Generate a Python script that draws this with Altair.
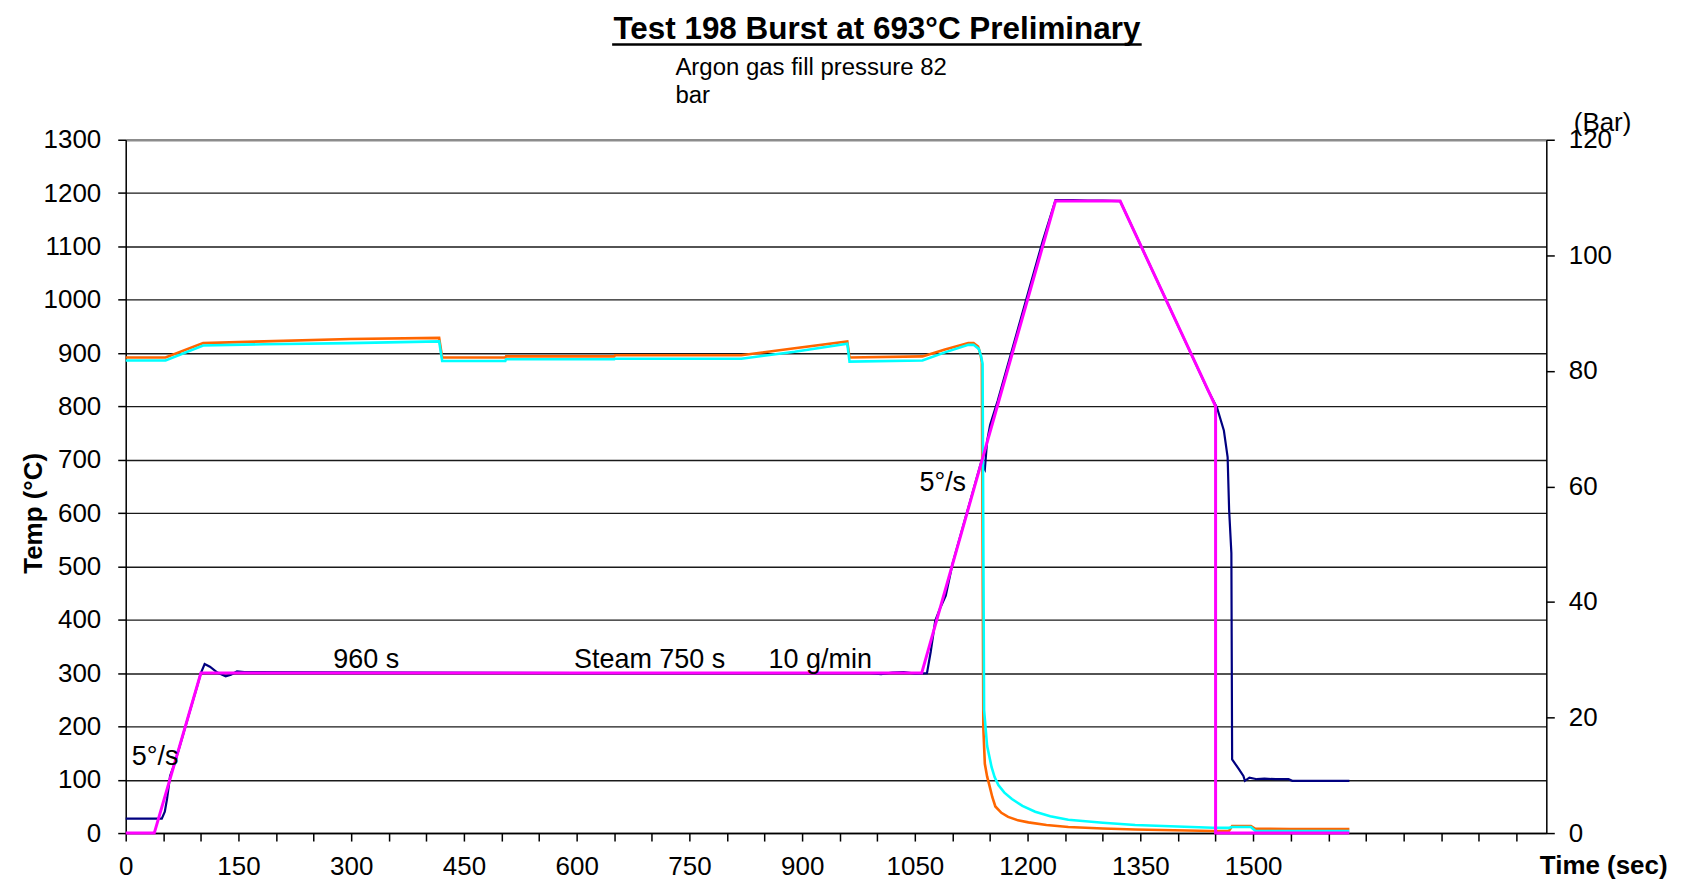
import altair as alt
import pandas as pd

FONT = "Liberation Sans"

# ---------------- data ----------------
# Set-point temperature (magenta), degC
set_t = [0, 38, 100, 1059, 1237, 1323, 1450, 1450, 1628]
set_T = [0, 0, 300, 300, 1185, 1185, 800, 0, 0]

# Measured temperature (navy), degC
meas_t = [0, 48, 52, 55, 59, 65, 75, 85, 95, 100, 105, 112, 122, 133, 140, 148, 158, 600, 990, 1005,
          1020, 1035, 1050, 1066, 1071, 1077, 1083, 1091, 1100, 1110, 1120, 1130, 1138, 1143, 1146, 1150,
          1160, 1180, 1200, 1220, 1237, 1260, 1280, 1300, 1323, 1350, 1380, 1410, 1440, 1452, 1461, 1466,
          1468, 1471, 1472, 1481, 1487, 1489, 1495, 1505, 1515, 1530, 1547, 1552, 1590, 1628]
meas_T = [27, 27, 40, 64, 107, 130, 178, 227, 275, 300, 317, 312, 301, 294, 297, 303, 302, 300, 300, 298,
          301, 302, 299, 300, 340, 398, 420, 445, 505, 555, 605, 655, 695, 682, 735, 765,
          810, 910, 1010, 1110, 1187, 1187, 1186, 1186, 1185, 1103, 1012, 921, 830, 797, 755, 705,
          606, 525, 138, 120, 107, 98, 104, 101, 102, 101, 101, 98, 98, 98]

# Pressure trace 1 (orange), bar
p1_t = [0, 53, 103, 184, 298, 417, 421, 505, 506, 650, 651, 819, 890, 960, 963, 1060, 1090, 1121, 1128,
        1134, 1137, 1139, 1140, 1141, 1143, 1146, 1149, 1153, 1157, 1165, 1174, 1187, 1201, 1225, 1254,
        1300, 1343, 1446, 1468, 1472, 1497, 1503, 1550, 1628]
p1_P = [82.3, 82.3, 84.8, 85.1, 85.5, 85.7, 82.3, 82.3, 82.5, 82.5, 82.7, 82.7, 83.9, 85.1, 82.3, 82.5,
        83.7, 84.8, 84.8, 84.2, 83.0, 81.5, 50.0, 18.2, 12.0, 9.8, 8.3, 6.2, 4.6, 3.5, 2.8, 2.2, 1.85,
        1.4, 1.05, 0.8, 0.62, 0.35, 0.4, 1.2, 1.2, 0.74, 0.7, 0.7]

# Pressure trace 2 (cyan), bar
p2_t = [0, 53, 103, 184, 298, 417, 421, 505, 506, 650, 651, 819, 890, 960, 963, 1060, 1090, 1121, 1128,
        1135, 1138, 1140, 1141, 1142, 1146, 1152, 1156, 1161, 1169, 1179, 1193, 1210, 1230, 1254, 1300,
        1343, 1446, 1468, 1472, 1497, 1503, 1550, 1628]
p2_P = [81.8, 81.8, 84.4, 84.6, 84.8, 85.1, 81.7, 81.7, 82.0, 82.0, 82.1, 82.1, 83.3, 84.7, 81.6, 81.8,
        83.2, 84.5, 84.5, 83.8, 82.5, 81.2, 50.0, 21.3, 15.1, 11.4, 9.7, 8.3, 7.0, 5.9, 4.7, 3.7, 2.9,
        2.3, 1.8, 1.4, 0.92, 0.9, 1.05, 1.05, 0.35, 0.35, 0.35]

# Annotations (placed in data coordinates)
ann_text = ["960 s", "Steam 750 s", "10 g/min", "5°/s", "5°/s"]
ann_t = [320, 697, 924, 39, 1087]
ann_T = [310, 310, 310, 128, 641]

title_text = "Test 198 Burst at 693°C Preliminary"
subtitle_text = "Argon gas fill pressure 82\nbar"

x_ticks = list(range(0, 1851, 50))
left_ticks = list(range(0, 1301, 100))
right_ticks = list(range(0, 121, 20))

# ---------------- chart ----------------
W, H = 1424, 695
X_MAX = 1890


def frame(t, v):
    return pd.DataFrame({"t": t, "v": v, "i": list(range(len(t)))})


x_scale = alt.Scale(domain=[0, X_MAX], nice=False, zero=False)
temp_scale = alt.Scale(domain=[0, 1300], nice=False, zero=False)
pres_scale = alt.Scale(domain=[0, 120], nice=False, zero=False)

x_axis = alt.Axis(
    values=x_ticks, format="d",
    labelExpr="(datum.value % 150 === 0 && datum.value <= 1500) ? datum.label : ''",
    labelFlush=False, labelOverlap=False, labelFont=FONT, labelFontSize=26, labelColor="black",
    labelPadding=13, tickSize=8, tickColor="black", tickWidth=1.5,
    domainColor="black", domainWidth=1.5, grid=False,
    title="Time (sec)", titleFont=FONT, titleFontSize=26, titleFontWeight="bold", titleColor="black",
    titleX=1417, titleY=41, titleAlign="left", titleBaseline="alphabetic",
)

left_axis = alt.Axis(
    orient="left", values=left_ticks, format="d",
    labelFont=FONT, labelFontSize=26, labelColor="black", labelPadding=17, labelFlush=False,
    labelOverlap=False, tickSize=8, tickColor="black", tickWidth=1.5,
    domainColor="black", domainWidth=1.5,
    grid=True,
    gridColor={"condition": {"test": "datum.value === 1300", "value": "#8c8c8c"}, "value": "#1a1a1a"},
    gridWidth={"condition": {"test": "datum.value === 1300", "value": 2.5}, "value": 1.4},
    gridOpacity=1,
    title="Temp (°C)", titleFont=FONT, titleFontSize=26, titleFontWeight="bold", titleColor="black",
    titleAngle=270, titleX=-84, titleY=374, titleAlign="center", titleBaseline="alphabetic",
)

right_axis = alt.Axis(
    orient="right", values=right_ticks, format="d",
    labelFont=FONT, labelFontSize=26, labelColor="black", labelPadding=14, labelFlush=False,
    labelOverlap=False, tickSize=8, tickColor="black", tickWidth=1.5,
    domainColor="black", domainWidth=1.5, grid=False,
    title="(Bar)", titleFont=FONT, titleFontSize=26, titleFontWeight="normal", titleColor="black",
    titleAngle=0, titleX=27, titleY=-9, titleAlign="left", titleBaseline="alphabetic",
)

X = alt.X("t:Q", scale=x_scale, axis=x_axis)

navy = alt.Chart(frame(meas_t, meas_T)).mark_line(color="#000080", strokeWidth=2.2).encode(
    x=X, y=alt.Y("v:Q", scale=temp_scale, axis=left_axis), order="i:Q"
)

orange = alt.Chart(frame(p1_t, p1_P)).mark_line(color="#FF6600", strokeWidth=2.6).encode(
    x=X, y=alt.Y("v:Q", scale=pres_scale, axis=right_axis), order="i:Q"
)
cyan = alt.Chart(frame(p2_t, p2_P)).mark_line(color="#00FFFF", strokeWidth=2.6).encode(
    x=X, y=alt.Y("v:Q", scale=pres_scale, axis=right_axis), order="i:Q"
)
pressure = alt.layer(orange, cyan)

magenta = alt.Chart(frame(set_t, set_T)).mark_line(color="#FF00FF", strokeWidth=3).encode(
    x=X, y=alt.Y("v:Q", scale=temp_scale, axis=None), order="i:Q"
)

ann = alt.Chart(pd.DataFrame({"label": ann_text, "t": ann_t, "v": ann_T})).mark_text(
    font=FONT, fontSize=27, color="black", align="center", baseline="alphabetic"
).encode(
    x=X, y=alt.Y("v:Q", scale=temp_scale, axis=None), text="label:N"
)

TITLE_FS = 31.5
title_center = 753
title_half = 16.851 * TITLE_FS / 2
title = alt.Chart(pd.DataFrame({"label": [title_text]})).mark_text(
    font=FONT, fontSize=TITLE_FS, fontWeight="bold", color="black", align="center", baseline="alphabetic"
).encode(x=alt.value(title_center), y=alt.value(-101), text="label:N")

underline = alt.Chart(pd.DataFrame({"k": [0]})).mark_rule(color="black", strokeWidth=2.5).encode(
    x=alt.value(title_center - title_half), x2=alt.value(title_center + title_half), y=alt.value(-95.5)
)

subtitle = alt.Chart(pd.DataFrame({"label": [subtitle_text]})).mark_text(
    font=FONT, fontSize=24, color="black", align="left", baseline="alphabetic",
    lineBreak="\n", lineHeight=28
).encode(x=alt.value(551), y=alt.value(-65), text="label:N")

chart = alt.layer(navy, pressure, magenta, ann, title, underline, subtitle).resolve_scale(
    y="independent"
).properties(
    width=W, height=H,
    autosize=alt.AutoSizeParams(type="none"),
    padding={"left": 118, "top": 131, "right": 130, "bottom": 48},
    background="white",
).configure_view(stroke=None).configure(font=FONT)

chart.save("out.html", embed_options={"renderer": "svg", "actions": False})
